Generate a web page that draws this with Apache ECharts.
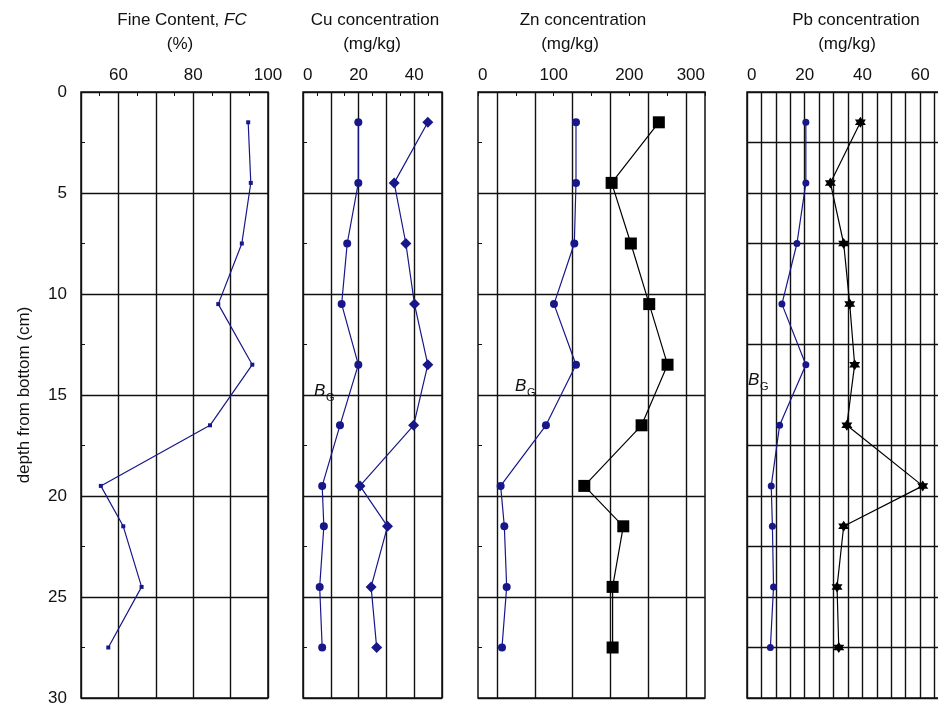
<!DOCTYPE html>
<html>
<head>
<meta charset="utf-8">
<script src="https://cdn.jsdelivr.net/npm/echarts@6/dist/echarts.min.js"></script>
<style>
  html, body { margin: 0; padding: 0; background: #ffffff; }
  #chart { width: 938px; height: 703px; }
</style>
</head>
<body>
<div id="chart"></div>
<script>
// Sampling depths (cm from bottom of the core)
const depth = [1.5, 4.5, 7.5, 10.5, 13.5, 16.5, 19.5, 21.5, 24.5, 27.5];

// Fine content (%)
const fineContent = [94.7, 95.4, 93.0, 86.7, 95.8, 84.5, 55.3, 61.3, 66.2, 57.3];

// Heavy metal concentrations (mg/kg): background profile and measured profile
const cuBackground = [19.9, 19.9, 15.9, 13.9, 19.9, 13.3, 6.9, 7.5, 6.0, 6.9];
const cuMeasured   = [44.9, 32.8, 37.0, 40.1, 44.9, 39.8, 20.5, 30.4, 24.5, 26.5];
const znBackground = [129.5, 129.5, 127.3, 100.4, 129.5, 89.8, 29.9, 34.8, 37.9, 31.7];
const znMeasured   = [239, 176.6, 202, 226.3, 250.5, 216.2, 140.5, 192, 177.9, 177.9];
const pbBackground = [20.4, 20.4, 17.3, 12.1, 20.4, 11.3, 8.4, 8.8, 9.2, 8.1];
const pbMeasured   = [39.3, 28.9, 33.5, 35.6, 37.3, 34.6, 60.9, 33.5, 31.2, 31.8];

// Tick labels shown on each horizontal axis
const fcTickLabels = [60, 80, 100];
const cuTickLabels = [0, 20, 40];
const znTickLabels = [0, 100, 200, 300];
const pbTickLabels = [0, 20, 40, 60];

const INK = '#111111';
const NAVY = '#17178a';
const FONT = '"Liberation Sans", Arial, Helvetica, sans-serif';
const STAR = 'path://M0,-10 L8.66,5 L-8.66,5 Z M0,10 L-8.66,-5 L8.66,-5 Z';

const pairs = (xs) => xs.map((v, i) => [v, depth[i]]);

// The Pb panel runs past the right edge of the page
const grids = [
  { left: 81,  top: 92, width: 187, height: 606 },
  { left: 303, top: 92, width: 139, height: 606 },
  { left: 478, top: 92, width: 227, height: 606 },
  { left: 747, top: 92, width: 202, height: 606 }
].map(g => Object.assign({
  show: true, borderColor: INK, borderWidth: 1.5, backgroundColor: 'transparent',
  containLabel: false, outerBoundsMode: 'none'
}, g));

const gridLine = { show: true, lineStyle: { color: INK, width: 1.4 } };
const tickStyle = { color: INK, width: 1 };

function xAxis(idx, min, max, interval, labels, opts) {
  return Object.assign({
    gridIndex: idx, type: 'value', position: 'top', min, max, interval,
    axisLine: { show: false },
    axisTick: { show: true, inside: true, length: 4, lineStyle: tickStyle },
    minorTick: { show: true, splitNumber: 2, length: 4, lineStyle: tickStyle },
    splitLine: gridLine,
    axisLabel: {
      show: true, margin: 8, fontSize: 17, color: INK, fontFamily: FONT,
      formatter: v => labels.includes(v) ? String(v) : ''
    }
  }, opts || {});
}

function yAxis(idx, opts) {
  return Object.assign({
    gridIndex: idx, type: 'value', inverse: true, min: 0, max: 30, interval: 5,
    axisLine: { show: false },
    axisTick: { show: true, inside: true, length: 4, lineStyle: tickStyle },
    minorTick: { show: true, splitNumber: 2, length: 4, lineStyle: tickStyle },
    splitLine: gridLine,
    axisLabel: { show: false }
  }, opts || {});
}

function withLabelAlign(axis, alignMin, alignMax) {
  if (alignMin) axis.axisLabel.alignMinLabel = alignMin;
  if (alignMax) axis.axisLabel.alignMaxLabel = alignMax;
  return axis;
}

const xAxes = [
  xAxis(0, 50, 100, 10, fcTickLabels),
  withLabelAlign(xAxis(1, 0, 50, 10, cuTickLabels), 'left'),
  // Zn: labelled every 100, grid lines halfway between the 50-unit ticks
  withLabelAlign(xAxis(2, 0, 300, 50, znTickLabels, {
    splitLine: { show: false },
    minorTick: { show: false, splitNumber: 2 },
    minorSplitLine: { show: true, lineStyle: { color: INK, width: 1.4 } }
  }), 'left', 'right'),
  withLabelAlign(xAxis(3, 0, 70, 5, pbTickLabels, {
    axisTick: { show: false },
    minorTick: { show: false }
  }), 'left')
];

const yAxes = [
  yAxis(0, {
    axisLabel: { show: true, margin: 14, fontSize: 17, color: INK, fontFamily: FONT },
    name: 'depth from bottom (cm)',
    nameLocation: 'middle',
    nameGap: 48,
    nameRotate: 90,
    nameTextStyle: { fontSize: 17, color: INK, fontFamily: FONT }
  }),
  yAxis(1),
  yAxis(2),
  yAxis(3, { interval: 2.5, axisTick: { show: false }, minorTick: { show: false } })
];

function lineSeries(idx, values, color, symbol, size) {
  return {
    type: 'line', xAxisIndex: idx, yAxisIndex: idx,
    data: pairs(values),
    symbol, symbolSize: size,
    lineStyle: { color, width: 1.2 },
    itemStyle: { color, borderWidth: 0 },
    z: 5
  };
}

const series = [
  lineSeries(0, fineContent, NAVY, 'rect', 4),
  lineSeries(1, cuBackground, NAVY, 'circle', 8),
  lineSeries(1, cuMeasured, NAVY, 'diamond', 11),
  lineSeries(2, znBackground, NAVY, 'circle', 8),
  lineSeries(2, znMeasured, '#000000', 'rect', 12),
  lineSeries(3, pbBackground, NAVY, 'circle', 7),
  lineSeries(3, pbMeasured, '#000000', STAR, 11)
];

function headText(x, y, text, rich) {
  return {
    type: 'text', x, y, z: 10,
    style: {
      text, fill: INK, font: '17px ' + FONT,
      align: 'center', verticalAlign: 'middle', rich
    }
  };
}

const plainItalic = {
  n: { fontSize: 17, fontFamily: FONT, color: INK },
  i: { fontSize: 17, fontFamily: FONT, color: INK, fontStyle: 'italic' }
};

function bgLabel(x, y) {
  return [
    { type: 'text', x, y, z: 10,
      style: { text: 'B', fill: INK, font: 'italic 17px ' + FONT, align: 'left', verticalAlign: 'middle' } },
    { type: 'text', x: x + 12, y: y + 7, z: 10,
      style: { text: 'G', fill: INK, font: '11px ' + FONT, align: 'left', verticalAlign: 'middle' } }
  ];
}

const graphic = [
  headText(182, 20, '{n|Fine Content, }{i|FC}', plainItalic),
  headText(180, 44, '(%)'),
  headText(375, 20, 'Cu concentration'),
  headText(372, 44, '(mg/kg)'),
  headText(583, 20, 'Zn concentration'),
  headText(570, 44, '(mg/kg)'),
  headText(856, 20, 'Pb concentration'),
  headText(847, 44, '(mg/kg)')
].concat(bgLabel(314, 391), bgLabel(515, 386), bgLabel(748, 380));

const chart = echarts.init(document.getElementById('chart'), null, { renderer: 'canvas' });
chart.setOption({
  animation: false,
  backgroundColor: '#ffffff',
  textStyle: { fontFamily: FONT },
  grid: grids,
  xAxis: xAxes,
  yAxis: yAxes,
  series,
  graphic
});
</script>
</body>
</html>
